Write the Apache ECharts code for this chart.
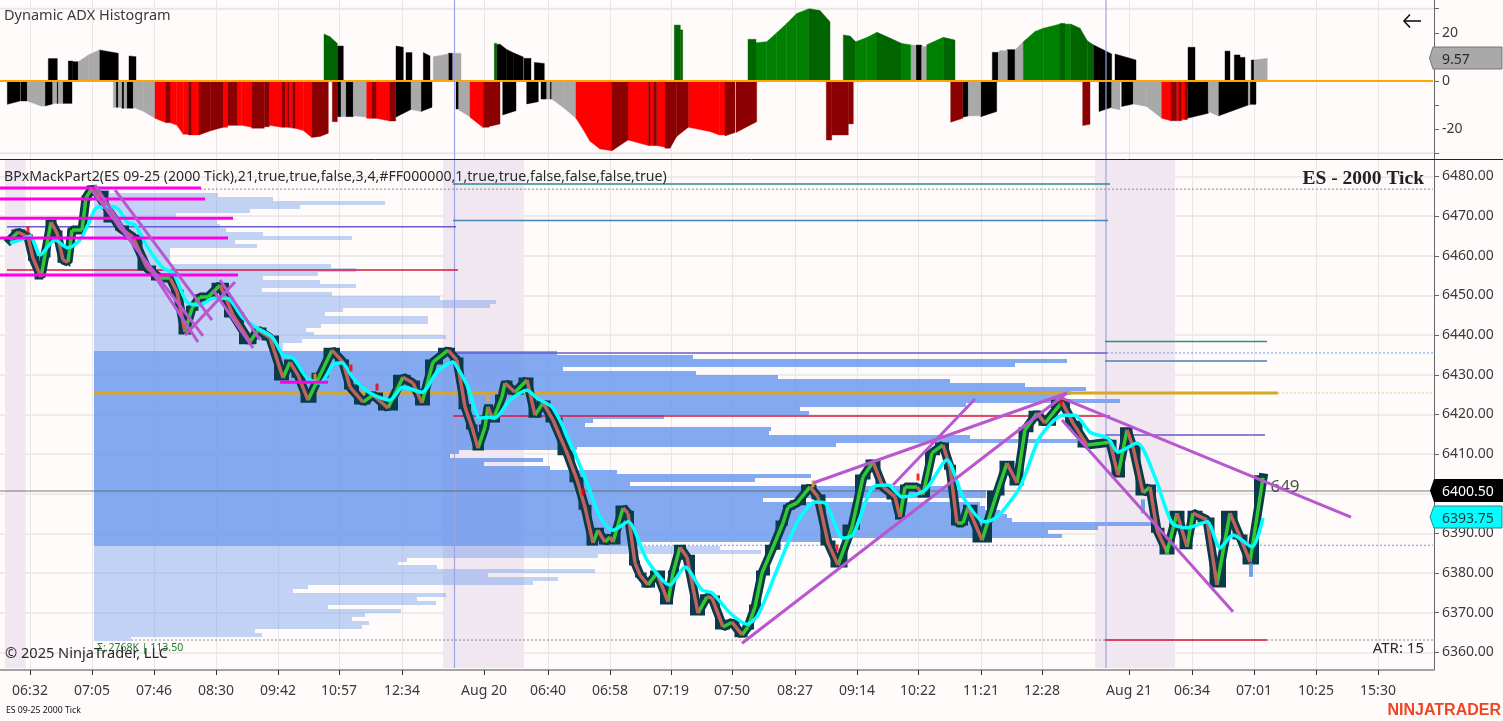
<!DOCTYPE html>
<html><head><meta charset="utf-8">
<script src="https://cdn.jsdelivr.net/npm/echarts@6/dist/echarts.min.js"></script>
<style>html,body{margin:0;padding:0;background:#fffbfa}#c{width:1503px;height:721px}</style></head>
<body><div id="c"></div>
<script>
// ---------- axis data ----------
const timeTicks=[30,92,154,216,278,339,402,484,548,610,671,732,795,857,918,981,1042,1129,1192,1254,1316,1378];
const timeLabels=['06:32','07:05','07:46','08:30','09:42','10:57','12:34','Aug 20','06:40','06:58','07:19','07:50','08:27','09:14','10:22','11:21','12:28','Aug 21','06:34','07:01','10:25','15:30'];
const priceTicks=[6360,6370,6380,6390,6400,6410,6420,6430,6440,6450,6460,6470,6480];
const adxTicks=[-30,-20,-10,0,10,20,30];
const adxLabels=[-20,0,20];
const sessionBands=[[5,25.7],[443,524],[1095,1175]];
const sessionStarts=[454.5,1106];

// ---------- price series [bar, price] ----------
const pricePath=[[10,6464],[18,6466],[28,6464.75],[33,6459.4],[41,6454.65],[45,6460.2],[51,6468.5],[57,6465.75],[63,6458.9],[68,6458.4],[72,6466.5],[82,6466.5],[86,6474.6],[92,6477.1],[97,6475.8],[115,6469],[120,6467],[133,6464.75],[147,6456.9],[160,6454.4],[170,6454.4],[177,6450.9],[185,6440.8],[192,6446.8],[200,6449.6],[208,6449.6],[220,6452.6],[233,6445.1],[250,6438.3],[258,6441.3],[270,6439.3],[283,6429.2],[290,6433.2],[298,6429.9],[308,6423.6],[320,6429.9],[332,6436.2],[343,6433.2],[350,6426.9],[363,6423.1],[373,6424.9],[388,6421.6],[403,6429.4],[413,6427.9],[422,6422.9],[433,6433.2],[448,6436.2],[457,6433.7],[465,6421.9],[472,6416.8],[478,6411.5],[485,6416.8],[488,6421.9],[493,6418.6],[502,6424.4],[505,6427.9],[515,6425.6],[527,6428.7],[535,6419.8],[543,6422.9],[553,6418.6],[567,6410.3],[577,6403.5],[585,6396.6],[593,6387.6],[598,6390.8],[605,6387.8],[610,6389.1],[613,6387.8],[623,6396.4],[628,6395.1],[635,6382.5],[640,6379.5],[648,6377],[657,6380],[668,6372.7],[673,6380],[680,6386.5],[687,6384],[698,6369.9],[707,6374],[712,6373.7],[723,6366.4],[732,6367.6],[742,6364.4],[748,6366.4],[755,6371.4],[762,6380],[773,6386.5],[783,6392.6],[788,6396.6],[797,6397.7],[810,6401.7],[818,6399.2],[828,6387.6],[838,6382],[852,6391.6],[863,6404.2],[873,6408],[883,6401.7],[895,6399.2],[900,6394.1],[905,6401.7],[917,6401.7],[923,6399.7],[932,6410.3],[943,6412.3],[950,6406.7],[957,6392.6],[963,6392.6],[968,6396.6],[982,6388.3],[997,6400.2],[1007,6407.7],[1017,6402.7],[1025,6416.1],[1037,6420.3],[1045,6417.8],[1062,6423.1],[1073,6417.8],[1087,6412.3],[1110,6413],[1118,6404.7],[1127,6416.1],[1133,6411.8],[1143,6400.2],[1150,6401.7],[1157,6390.8],[1167,6385.3],[1177,6395.1],[1187,6386.6],[1193,6395.1],[1207,6393.4],[1217,6377],[1230,6395.1],[1240,6389.1],[1250,6382.8],[1263,6404]];
const cyanPath=[[10,6463.2],[20,6464],[30,6465],[40,6460.2],[55,6464],[68,6462],[80,6464],[88,6467.8],[98,6472.3],[115,6472.3],[128,6468.3],[135,6467.8],[148,6462],[163,6456.9],[173,6455.7],[187,6448.3],[200,6447.6],[213,6449.3],[227,6449.3],[243,6444.3],[257,6441.8],[272,6439.5],[283,6435],[293,6434.2],[307,6429.2],[320,6427.9],[333,6432.5],[342,6433],[353,6429.2],[370,6425.4],[390,6423.6],[403,6426.9],[422,6425.6],[437,6430.7],[453,6433.2],[457,6432],[468,6426.9],[480,6419.1],[490,6419.3],[495,6419.1],[510,6423.6],[527,6426.1],[537,6424.1],[553,6421.6],[572,6411.8],[587,6402.7],[600,6394.1],[613,6390.8],[628,6392.9],[647,6383.3],[670,6377],[685,6381.5],[702,6375.7],[712,6375],[730,6369.9],[747,6367.1],[758,6369.4],[777,6380.8],[797,6392.6],[815,6397.9],[825,6397.7],[830,6395.4],[843,6388.8],[853,6389.6],[873,6401.7],[888,6402.2],[902,6399.2],[925,6400.9],[947,6408.5],[963,6399.2],[985,6392.9],[997,6394.1],[1020,6401.7],[1040,6414.3],[1063,6419.8],[1075,6419.8],[1090,6415.5],[1108,6414],[1118,6410.5],[1137,6412.8],[1155,6404.2],[1172,6392.6],[1187,6391.4],[1207,6392.9],[1220,6386.3],[1233,6389.6],[1252,6386.6],[1263,6393.9]];
const redCandles=[[28,6466.5],[351,6431.7],[377,6426.9],[583,6400.5],[837,6386.3],[918,6404.2],[1061,6423.1]];
const orangeCandles=[[315,6429.4],[488,6424],[813,6402.5]];
const blueCandles=[[1143,6396.8],[1251,6380.8]];
const limeCandles=[[1167,6385.8]];

// ---------- drawing tools, [x0,x1,price] or [x0,p0,x1,p1] ----------
const magentaLevels=[[0,201,6477.1],[0,205,6474.3],[0,233,6469.5],[0,228,6464.5],[0,238,6455.15],[280,328,6428.1]];
const trendLines=[[95,6477.85,198,6438.25],[115,6476.6,212,6443.8],[90,6477.1,203,6439.8],[185,6440,235,6453.4],[220,6453.9,260,6438.8],[213,6451.4,253,6436.75],[742,6362.3,1067,6425.4],[813,6402.7,1067,6425.4],[893,6402.2,975,6423.9],[1062,6424.1,1351,6394.1],[1062,6418.6,1233,6370.2]];
const tealLevels=[[453,1110,6478.1],[1105,1267,6438.4]];
const steelLevels=[[453,1108,6468.9],[1105,1267,6433.5]];
const slateLevels=[[7,456,6467.3],[453,1107,6435.5],[1105,1265,6414.8]];
const crimsonLevels=[[7,458,6456.4],[453,1110,6419.6],[1105,1267,6363.1]];
const goldLevels=[[94,1278,6425.4]];
const dottedGrayLevels=[[200,1433,6476.8],[131,1433,6363.1]];
const dottedBlueLevels=[[1107,1433,6435.5],[640,1433,6387]];
const dottedGoldLevels=[[1278,1433,6425.4]];
const lastPrice=6400.7;
const adxGridLevels=[30,-30];

// ---------- volume profile: row ends, 1 point per row, top price first ----------
const profileTop=6476.9;
const profileValueArea=[41,89];
const profileEnd=[110,218,273,385,300,250,176,217,217,220,226,263,352,235,257,170,170,170,170,331,356,318,263,320,356,262,332,440,496,490,343,325,428,428,321,306,314,446,302,283,283,
557,693,1067,1015,563,696,778,950,1025,1086,1071,1063,1120,966,800,809,664,593,585,771,769,970,1077,836,577,459,450,543,484,550,617,811,755,630,950,986,986,763,980,985,1000,1007,1012,1152,1098,1048,1062,826,640,
720,761,598,407,398,437,595,488,558,533,308,293,446,417,436,328,401,365,352,369,362,255,262,131];
const profileStart=94;

// ---------- ADX histogram runs [x0,x1,v0,v1] ----------
const adxBlack=[[48.3,57.3,9.3,9.3],[68.3,72.7,8.3,8.3],[72.7,78.3,8,8],[99.3,118.3,12.9,11.5],[129,136,10.4,10.1],[337.3,343.3,14.5,14.5],[396,403.3,14.5,14],[406,412,11.8,11.8],[423.3,430,11.8,10.4],[448.3,452.7,11.5,11.5],[496.7,500,15.2,15.2],[500,506.7,15.2,13.1],[506.7,513.3,13.1,11.7],[513.3,523.3,11.7,10],[524,531,9.4,9.4],[534.3,544.3,7.7,7.3],[916,921.7,14.9,14.9],[992.3,998.3,11.9,11.9],[1007.3,1015,13,13],[1093.3,1111.7,15,11.2],[1115,1136,11.2,8.7],[1188,1195,14,14],[1225,1230,12.4,12.4],[1234.3,1240,10.8,10.8],[1240,1245,9.8,9.8],[1251.3,1254,8.7,8.7],
[7.3,20,-9.7,-8.3],[20.7,27.3,-8.3,-8.3],[45,52.7,-10.4,-9.5],[56.7,58.3,-9.3,-9.3],[62.7,72,-9.3,-9.3],[116,118.3,-10.9,-10.9],[121.7,124,-11.3,-11.3],[126.7,133.3,-11.3,-11.3],[337.3,341,-14.8,-14.8],[345.7,353.3,-14.8,-14.8],[395.7,411,-15,-11.8],[421,432,-12.7,-10.9],[456,458.7,-11.6,-11.6],[502.7,516,-14.1,-12.3],[526.7,538.3,-9.5,-8.6],[541,546.7,-7.5,-7.5],[550,551.7,-7.5,-7.5],[962.7,968.3,-15,-14.5],[980.7,996.7,-14.8,-12.7],[1099,1111.7,-12.7,-10.9],[1121.7,1133.3,-10.6,-9.5],[1187.3,1208.3,-15.5,-13.4],[1218.3,1248.3,-14.5,-10],[1250,1256,-9.7,-9.7]];
const adxGray=[[78.3,88.3,8,10.8],[88.3,99.3,10.8,12.9],[433.3,448.3,10.1,11.2],[452.7,461,11.5,11.5],[910.7,916,14.9,14.9],[921.7,926.7,14.3,14.3],[998.3,1000,11.5,12.6],[1000,1007.3,12.6,12.6],[1015,1023.3,12.9,16.3],[1254,1267.3,8.7,9.4],
[27.3,41,-8.3,-10.4],[41,45,-10.4,-10.4],[52.7,56.7,-9.3,-9.3],[58.3,62.7,-9.3,-9.3],[113.3,116,-10.9,-10.9],[118.3,121.7,-10.9,-10.9],[124,126.7,-11.3,-11.3],[133.3,143.3,-10.9,-12.6],[143.3,155,-12.6,-15.5],[341,345.7,-14.8,-14.8],[353.3,366.7,-14.4,-15],[411,421,-11.8,-12.7],[458.7,470,-12,-14.8],[546.7,550,-7.5,-7.5],[551.7,563.3,-7.5,-11],[563.3,576,-11,-15.5],[968.3,980.7,-14.5,-14.4],[1111.7,1120,-11.3,-11.9],[1133.3,1146.7,-9.5,-10.6],[1146.7,1161.7,-10.6,-15.5],[1208.3,1218.3,-12.7,-14.5],[1248.3,1250,-10,-10]];
const adxGreen=[[756,766.7,15.9,16.3],[766.7,776.7,16.3,20],[776.7,786.7,20,23.9],[786.7,796.7,23.9,28],[796.7,808.3,28,29.9],[855.7,866.7,16.3,18],[866.7,877,18,20.2],[901.7,910.7,15.6,15],[926.7,943.3,15,18.1],[1023.3,1035,16.3,20.5],[1035,1043.3,20.5,21.9],[1043.3,1060,21.9,23.6],[1065,1070.7,23.6,23.6]];
const adxDarkGreen=[[324,330,19.5,18.4],[330,337.3,18.4,15.6],[494.3,496.7,15.6,15.6],[674.3,680.3,23.2,23.2],[680.3,682.7,21.2,21.2],[748,756,17.3,17.3],[808.3,811,29.9,29.9],[811,820,29.9,29.2],[820,830,29.2,24.6],[843.3,850,19.1,18.7],[850,855.7,18.7,16.3],[877,890,20.2,17.8],[890,901.7,17.8,15.6],[943.3,955,18.1,17],[1060,1065,23.9,23.9],[1070.7,1080,23.6,21.9],[1080,1087.3,21.9,16.7],[1087.3,1093.3,16.7,15]];
const adxRed=[[155,166,-15.5,-17.3],[170,176.7,-17.3,-18.3],[176.7,183.3,-18.3,-22.1],[183.3,188.3,-22.1,-22.1],[191.7,199,-22.4,-22.4],[223.3,227.7,-19.2,-19.2],[237.3,241.7,-18.4,-18.4],[241.7,251.7,-18.4,-19.2],[269.3,281.7,-18.4,-19.2],[285,287.3,-19.2,-19.2],[289.3,292.7,-19.4,-19.4],[295,303.3,-19.6,-20.5],[303.3,311.7,-20.5,-23.4],[366.7,371.7,-15.5,-15.5],[376,390,-15.5,-16.6],[470,483.3,-15,-19.4],[576,580,-15.5,-18],[580,590,-18,-25],[590,600,-25,-28.2],[600,612,-28.2,-28.9],[628,648.3,-24.5,-26.8],[650,653.3,-26.8,-26.8],[656.7,665,-26.8,-27.5],[688.3,710,-19.2,-21],[710,719.3,-21,-22.4],[719.3,725,-22.4,-22.4],[1161.7,1171,-15.5,-16.5],[1176.7,1179,-16.5,-16.5],[1181.7,1185,-16,-16]];
const adxDarkRed=[[166,170,-17.3,-17.3],[188.3,191.7,-22.4,-22.4],[199,210.7,-22.4,-20.6],[210.7,223.3,-20.6,-19.2],[227.7,237.3,-18.4,-18.4],[251.7,264.3,-19.6,-19.6],[264.3,269.3,-19,-19],[281.7,285,-19.2,-19.2],[287.3,289.3,-19.2,-19.2],[292.7,295,-19.6,-19.6],[311.7,320,-23.4,-23],[320,328.3,-23,-21.7],[332.3,337.3,-16.9,-16.9],[371.7,376,-15.5,-15.5],[390,395.7,-16.6,-16.6],[483.3,489,-19.2,-19.2],[489,500,-18.9,-17.8],[612,628,-28.9,-24.5],[648.3,650,-26.8,-26.8],[653.3,656.7,-26.8,-26.8],[665,670,-27.9,-27.9],[670,676.7,-27.9,-23],[676.7,688.3,-23,-19.2],[725,735,-22.8,-21.4],[736,756.7,-21.4,-16.9],[826.3,831.7,-24.5,-24.5],[831.7,848.3,-22.4,-22.4],[848.3,853.3,-17.8,-17.8],[950.7,962.7,-17.1,-15.5],[1082.7,1090,-18.5,-18],[1171,1176.7,-16.5,-16.5],[1179,1181.7,-16.5,-16.5],[1185,1187.3,-16,-16]];

// ---------- builders ----------
const xMax=1434, pMin=6355.54, pMax=6484.16, aMin=-32.37, aMax=33.6;
const font='"Noto Sans"';
const base={silent:true,animation:false};
function poly(name,segs,pts){return segs.flatMap(s=>[...pts(s),[null,null]]);}
function lineSer(name,data,pane,color,width,z,extra){
  return Object.assign({type:'line',name,data,xAxisIndex:pane,yAxisIndex:pane,showSymbol:false,symbol:'none',z,
    lineStyle:{color,width,cap:'butt',join:'round'},connectNulls:false},base,extra||{});
}
function levels(name,segs,color,width,z,extra){
  return lineSer(name,poly(name,segs,s=>[[s[0],s[2]],[s[1],s[2]]]),1,color,width,z,extra);
}
function adxSer(name,rows,color){
  return Object.assign({type:'custom',name,xAxisIndex:0,yAxisIndex:0,z:3,data:rows,
    renderItem(p,api){
      const a=api.coord([api.value(0),0]),b=api.coord([api.value(1),0]),c=api.coord([api.value(1),api.value(3)]),d=api.coord([api.value(0),api.value(2)]);
      return {type:'polygon',shape:{points:[a,b,c,d]},style:{fill:color,stroke:color,lineWidth:0.4}};
    }},base);
}
function dots(name,data,color,size,z){
  return Object.assign({type:'scatter',name,data,xAxisIndex:1,yAxisIndex:1,symbol:'rect',symbolSize:size,z,itemStyle:{color}},base);
}
const bandSer=Object.assign({type:'custom',name:'session',xAxisIndex:1,yAxisIndex:1,z:1,data:sessionBands,
  renderItem(p,api){
    const a=api.coord([api.value(0),pMax]),b=api.coord([api.value(1),pMin]);
    return {type:'rect',shape:{x:a[0],y:a[1],width:b[0]-a[0],height:b[1]-a[1]-2},style:{fill:'#f0e7f0'}};
  }},base);
const profileRows=profileEnd.map((e,i)=>[profileTop-i,e,i]);
const profileSer=Object.assign({type:'custom',name:'profile',xAxisIndex:1,yAxisIndex:1,z:2,data:profileRows,
  renderItem(p,api){
    const a=api.coord([profileStart,api.value(0)]),b=api.coord([api.value(1),api.value(0)-1]);
    const i=api.value(2),inVA=i>=profileValueArea[0]&&i<=profileValueArea[1];
    const y0=Math.round(a[1]),y1=Math.round(b[1]);
    return {type:'rect',shape:{x:Math.round(a[0]),y:y0,width:Math.round(b[0]-a[0]),height:y1-y0},
      style:{fill:inVA?'rgba(100,149,237,0.8)':'rgba(100,149,237,0.4)'}};
  }},base);

const upSegs=[],downSegs=[];
pricePath.forEach((pt,i)=>{ if(!i) return; const prev=pricePath[i-1];
  const t=pt[1]>=prev[1]?upSegs:downSegs; t.push(prev,pt,[null,null]); });

const series=[
  bandSer,profileSer,
  adxSer('black',adxBlack,'#000000'),adxSer('gray',adxGray,'#a9a9a9'),adxSer('green',adxGreen,'#008000'),
  adxSer('darkgreen',adxDarkGreen,'#006400'),adxSer('red',adxRed,'#ff0000'),adxSer('darkred',adxDarkRed,'#8b0000'),
  lineSer('adxZero',[[0,0],[xMax-1,0]],0,'#ffa500',2,5),
  lineSer('adxGrid',poly('g',adxGridLevels.map(v=>[0,xMax,v]),s=>[[s[0],s[2]],[s[1],s[2]]]),0,'#e8e6e6',2,1),
  lineSer('sessTop',sessionStarts.flatMap(x=>[[x,aMin],[x,aMax],[null,null]]),0,'#9ea4e2',1.2,6),
  lineSer('sessBot',sessionStarts.flatMap(x=>[[x,pMin+0.5],[x,pMax],[null,null]]),1,'#9ea4e2',1.2,6),
  levels('dotGray',dottedGrayLevels,'#8a8a8a',1,5,{lineStyle:{color:'#8a8a8a',width:1,type:[2,2]}}),
  levels('dotBlue',dottedBlueLevels,'#6f9df0',1,5,{lineStyle:{color:'#6f9df0',width:1,type:[2,2]}}),
  levels('dotGold',dottedGoldLevels,'#edd9a8',1,5,{lineStyle:{color:'#e6c887',width:1,type:[2,2]}}),
  levels('gold',goldLevels,'#daa520',3,6),
  levels('teal',tealLevels,'#2e8b8b',1.5,6),
  levels('steel',steelLevels,'#4682b4',1.5,6),
  levels('slate',slateLevels,'#6a5acd',1.5,6),
  levels('crimson',crimsonLevels,'#dc143c',1.5,6),
  levels('last',[[0,xMax,lastPrice]],'rgba(90,90,90,0.4)',2,7),
  lineSer('candles',pricePath,1,'#0b3a4a',9,8,{lineStyle:{color:'#0b3a4a',width:9,join:'bevel',cap:'square'}}),
  lineSer('candleSteps',pricePath,1,'#0b3a4a',5,8,{step:'middle',lineStyle:{color:'#0b3a4a',width:5,join:'miter',cap:'butt'}}),
  dots('redCandles',redCandles,'#ee0000',[3,7],11),
  dots('orangeCandles',orangeCandles,'#f5a623',[3,7],11),
  dots('blueCandles',blueCandles,'#4a90d9',[4,14],8),
  lineSer('up',upSegs,1,'#32c832',3.5,9),
  lineSer('down',downSegs,1,'#c0625c',3.5,9),
  dots('limeCandles',limeCandles,'#2ee02e',[4,8],9),
  lineSer('cyan',cyanPath,1,'#00ffff',3.5,10,{smooth:0.25}),
  {type:'scatter',name:'tag',xAxisIndex:1,yAxisIndex:1,z:10,symbolSize:1,itemStyle:{color:'transparent'},data:[[1285,6401.7]],silent:true,animation:false,
    label:{show:true,formatter:'649',position:'inside',fontFamily:font,fontSize:17,color:'#222',textBorderWidth:0}},
  levels('magenta',magentaLevels,'#ff00e6',3,11),
  lineSer('trend',poly('t',trendLines,s=>[[s[0],s[1]],[s[2],s[3]]]),1,'#b857d0',3,12),
];

function xAxis(grid,show){
  return {type:'value',gridIndex:grid,min:0,max:xMax,position:'bottom',
    axisLine:{show,onZero:false,lineStyle:{color:'#a3a3a3',width:2}},
    axisTick:{show,customValues:timeTicks,length:5,lineStyle:{color:'#333',width:1}},
    axisLabel:{show,customValues:timeTicks,margin:14,fontFamily:font,fontSize:14,color:'#3a3a3a',hideOverlap:false,
      formatter:v=>timeLabels[timeTicks.indexOf(v)]||''},
    splitLine:{show:true,lineStyle:{color:'#e9e6e6',width:1}}};
}
const opt={
  backgroundColor:'#fffbfa',animation:false,
  grid:[{left:0,right:69,top:0,height:159},{left:0,right:69,top:160,height:510}],
  xAxis:[xAxis(0,false),xAxis(1,true)],
  yAxis:[
    {type:'value',gridIndex:0,position:'right',min:aMin,max:aMax,
     axisLine:{show:true,onZero:false,lineStyle:{color:'#666'}},
     axisTick:{show:true,customValues:adxTicks,length:5,lineStyle:{color:'#666'}},
     axisLabel:{show:true,customValues:adxLabels,margin:8,padding:[3,0,0,0],fontFamily:font,fontSize:14,color:'#3a3a3a'},
     splitLine:{show:false}},
    {type:'value',gridIndex:1,position:'right',min:pMin,max:pMax,
     axisLine:{show:true,onZero:false,lineStyle:{color:'#666'}},
     axisTick:{show:true,customValues:priceTicks,length:5,lineStyle:{color:'#666'}},
     axisLabel:{show:true,customValues:priceTicks,margin:8,padding:[3,0,0,0],fontFamily:font,fontSize:14,color:'#3a3a3a',formatter:v=>v.toFixed(2)},
     splitLine:{show:true,lineStyle:{color:'#e9e6e6',width:1.5}}}
  ],
  series,
  graphic:[
    {type:'line',shape:{x1:0,y1:159.5,x2:1503,y2:159.5},style:{stroke:'#222',lineWidth:1},z:20},
    {type:'text',x:4,y:16,style:{text:'Dynamic ADX Histogram',font:'14.5px '+font,fill:'#3a3a3a',textVerticalAlign:'middle'},z:20},
    {type:'text',x:4,y:177,style:{text:'BPxMackPart2(ES 09-25 (2000 Tick),21,true,true,false,3,4,#FF000000,1,true,true,false,false,false,true)',font:'14.13px '+font,fill:'#2a2a2a',textVerticalAlign:'middle'},z:20},
    {type:'text',x:1424,y:179,style:{text:'ES - 2000 Tick',font:'bold 19.5px "Liberation Serif"',fill:'#222',textAlign:'right',textVerticalAlign:'middle'},z:20},
    {type:'text',x:5,y:654,style:{text:'© 2025 NinjaTrader, LLC',font:'14.6px '+font,fill:'#2a2a2a',textVerticalAlign:'middle'},z:20},
    {type:'text',x:97,y:648,style:{text:'Σ: 2768K | 113.50',font:'10.5px '+font,fill:'#1c7f2c',textVerticalAlign:'middle'},z:19},
    {type:'text',x:1424,y:649,style:{text:'ATR: 15',font:'15px '+font,fill:'#2a2a2a',textAlign:'right',textVerticalAlign:'middle'},z:20},
    {type:'text',x:6,y:711,style:{text:'ES 09-25 2000 Tick',font:'8.7px '+font,fill:'#111',textVerticalAlign:'middle'},z:20},
    {type:'text',x:1501,y:711,style:{text:'NINJATRADER',font:'bold 16px "Liberation Sans"',fill:'#ee4623',textAlign:'right',textVerticalAlign:'middle'},z:20},
    {type:'polyline',shape:{points:[[1421,21],[1404,21]]},style:{stroke:'#111',lineWidth:1.6,fill:null},z:20},
    {type:'polyline',shape:{points:[[1410,14.5],[1404,21],[1410,27.5]]},style:{stroke:'#111',lineWidth:1.6,fill:null},z:20},
    {type:'polygon',shape:{points:[[1433,47],[1502,47],[1502,69],[1433,69],[1429.5,58]]},style:{fill:'#a9a9a9',stroke:'#777',lineWidth:1},z:20},
    {type:'text',x:1442,y:60,style:{text:'9.57',font:'14px '+font,fill:'#2a2a2a',textVerticalAlign:'middle'},z:21},
    {type:'polygon',shape:{points:[[1434,479],[1503,479],[1503,502],[1434,502],[1430,490.5]]},style:{fill:'#000'},z:20},
    {type:'text',x:1442,y:492,style:{text:'6400.50',font:'14px '+font,fill:'#fff',textVerticalAlign:'middle'},z:21},
    {type:'polygon',shape:{points:[[1434,506],[1502,506],[1502,528],[1434,528],[1430,517]]},style:{fill:'#00ffff',stroke:'#2a8a8a',lineWidth:1},z:20},
    {type:'text',x:1442,y:519,style:{text:'6393.75',font:'14px '+font,fill:'#1a3a3a',textVerticalAlign:'middle'},z:21},
  ]
};
echarts.init(document.getElementById('c'),null,{renderer:'canvas'}).setOption(opt);
</script></body></html>
